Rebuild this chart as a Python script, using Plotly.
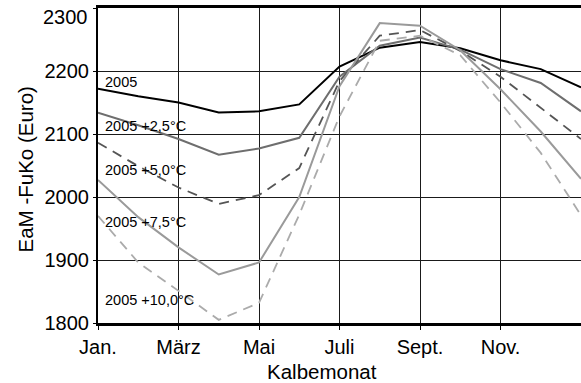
import plotly.graph_objects as go

# Calving month index: Jan .. Dec, then Jan again to close the annual cycle
month_idx = list(range(13))
tick_pos = [0, 2, 4, 6, 8, 10]
tick_text = ["Jan.", "März", "Mai", "Juli", "Sept.", "Nov."]

# Value axis ticks; the top label sits just inside the frame
y_ticks = [1800, 1900, 2000, 2100, 2200, 2300]
y_tick_text = ["1800", "1900", "2000", "2100", "2200", ""]
top_label = "2300"

# EaM - FuKo (Euro) per calving month, baseline 2005 and warming scenarios
eam_2005 = [2172, 2160, 2150, 2134, 2136, 2147, 2207, 2237, 2246, 2236, 2217, 2203, 2174]
eam_p25 = [2134, 2114, 2092, 2067, 2077, 2094, 2191, 2240, 2253, 2234, 2203, 2181, 2136]
eam_p50 = [2086, 2049, 2015, 1989, 2003, 2046, 2184, 2256, 2265, 2232, 2191, 2142, 2092]
eam_p75 = [2027, 1968, 1920, 1877, 1896, 2000, 2176, 2276, 2272, 2233, 2171, 2104, 2029]
eam_p100 = [1970, 1896, 1851, 1805, 1832, 1972, 2128, 2248, 2256, 2225, 2150, 2070, 1971]

series_names = ["2005", "2005 +2,5°C", "2005 +5,0°C", "2005 +7,5°C", "2005 +10,0°C"]
label_y = [2183, 2112, 2043, 1960, 1837]

FONT = "Liberation Sans, Arial, sans-serif"

styles = [
    dict(color="#000000", width=2, dash="solid"),
    dict(color="#6e6e6e", width=2, dash="solid"),
    dict(color="#555555", width=1.8, dash="10px,7px"),
    dict(color="#9a9a9a", width=2, dash="solid"),
    dict(color="#ababab", width=1.8, dash="10px,7px"),
]

fig = go.Figure()
for name, vals, st in zip(series_names, [eam_2005, eam_p25, eam_p50, eam_p75, eam_p100], styles):
    fig.add_trace(go.Scatter(x=month_idx, y=vals, mode="lines", name=name, line=st))

annotations = []
for name, ly in zip(series_names, label_y):
    annotations.append(dict(x=0.12, y=ly, xref="x", yref="y", text=name, showarrow=False,
                            xanchor="left", yanchor="middle",
                            font=dict(family=FONT, size=14.5, color="#000000")))

annotations.append(dict(x=-0.0166, y=0.971, xref="paper", yref="paper", text=top_label,
                        showarrow=False, xanchor="right", yanchor="middle",
                        font=dict(family=FONT, size=20, color="#000000")))
annotations.append(dict(x=-0.15, y=0.486, xref="paper", yref="paper", text="EaM -FuKo (Euro)",
                        textangle=-90, showarrow=False, xanchor="center", yanchor="middle",
                        font=dict(family=FONT, size=20.5, color="#000000")))
annotations.append(dict(x=0.4638, y=-0.153, xref="paper", yref="paper", text="Kalbemonat",
                        showarrow=False, xanchor="center", yanchor="middle",
                        font=dict(family=FONT, size=20.5, color="#000000")))

fig.update_layout(
    width=581, height=383,
    margin=dict(l=98, r=0, t=8, b=60),
    paper_bgcolor="white", plot_bgcolor="white",
    showlegend=False,
    annotations=annotations,
    xaxis=dict(range=[0, 12], tickvals=tick_pos, ticktext=tick_text,
               showgrid=True, gridcolor="#1a1a1a", gridwidth=1,
               showline=True, linecolor="#000000", linewidth=2.5, mirror=True,
               ticks="outside", ticklen=4, tickcolor="#000000", tickwidth=1,
               tickfont=dict(family=FONT, size=20, color="#000000"), zeroline=False),
    yaxis=dict(range=[1800, 2300], tickvals=y_ticks, ticktext=y_tick_text,
               showgrid=True, gridcolor="#1a1a1a", gridwidth=1,
               showline=True, linecolor="#000000", linewidth=2,
               ticks="outside", ticklen=3, tickcolor="#000000", tickwidth=1,
               tickfont=dict(family=FONT, size=20, color="#000000"), zeroline=False),
)

fig.write_html("out.html")
